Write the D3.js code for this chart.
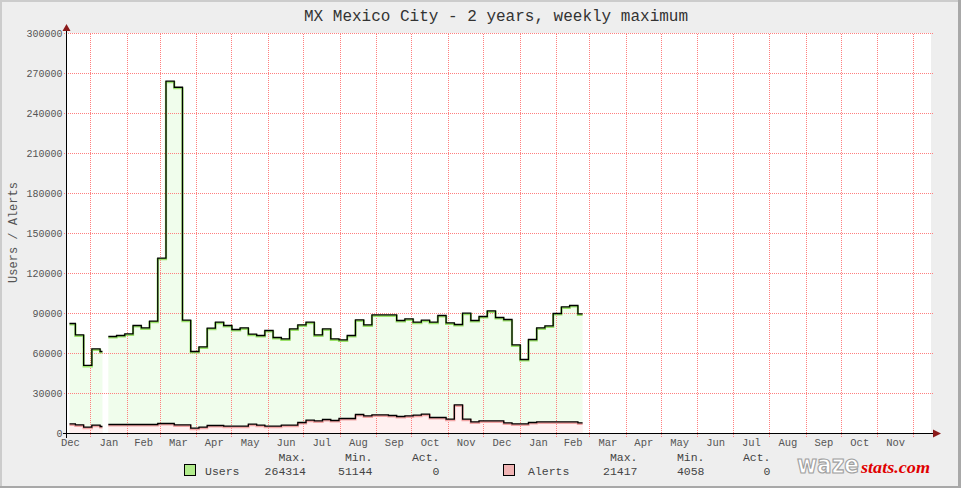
<!DOCTYPE html>
<html><head><meta charset="utf-8">
<script src="https://cdn.jsdelivr.net/npm/d3@7"></script>
<style>html,body{margin:0;padding:0;background:#eeeeee}svg{display:block}</style>
</head><body>
<svg id="chart" width="961" height="488"></svg>
<script>
// ---------------- DATA ----------------
const chartTitle = "MX Mexico City - 2 years, weekly maximum";
const yAxisTitle = "Users / Alerts";
const periodStarts = [
  "2012-12-14","2012-12-19","2012-12-26","2013-01-02","2013-01-09","2013-01-11",
  "2013-01-16","2013-01-23","2013-01-30","2013-02-06","2013-02-13","2013-02-20",
  "2013-02-27","2013-03-06","2013-03-13","2013-03-20","2013-03-27","2013-04-03",
  "2013-04-10","2013-04-17","2013-04-24","2013-05-01","2013-05-08","2013-05-15",
  "2013-05-22","2013-05-29","2013-06-05","2013-06-12","2013-06-19","2013-06-26",
  "2013-07-03","2013-07-10","2013-07-17","2013-07-24","2013-07-31","2013-08-07",
  "2013-08-14","2013-08-21","2013-08-28","2013-09-04","2013-09-11","2013-09-18",
  "2013-09-25","2013-10-02","2013-10-09","2013-10-16","2013-10-23","2013-10-30",
  "2013-11-06","2013-11-13","2013-11-20","2013-11-27","2013-12-04","2013-12-11",
  "2013-12-18","2013-12-25","2014-01-01","2014-01-08","2014-01-15","2014-01-22",
  "2014-01-29","2014-02-05","2014-02-12","2014-02-19"
];
const periodEnd = "2014-02-23";
const users = [
  82500, 74000, 51144, 63500, 61500, null,
  72750, 73500, 74750, 81000, 79250, 84250,
  131500, 264314, 259700, 85000, 61500, 65000,
  79000, 83500, 81000, 78000, 79250, 74500,
  73500, 77250, 72000, 71000, 78500, 81500,
  83500, 74000, 78500, 71000, 70250, 73500,
  85250, 81500, 89000, 89000, 89000, 84750,
  86000, 83500, 85000, 83500, 88500, 83000,
  81750, 90250, 84750, 87750, 92000, 87000,
  85500, 66500, 55500, 70500, 79250, 80750,
  90000, 95000, 96000, 89750
];
const alerts = [
  7250, 6500, 4750, 6250, 5250, null,
  6750, 6750, 6750, 6750, 6750, 6750,
  7500, 7500, 6500, 6500, 4058, 4750,
  6000, 6000, 5500, 5500, 5500, 7000,
  6250, 5500, 5500, 6250, 6250, 8250,
  10000, 9500, 10500, 9750, 11250, 11250,
  14250, 13250, 14000, 14000, 13500, 12750,
  13250, 13750, 14500, 12000, 12000, 10750,
  21417, 10750, 8750, 9500, 9500, 9500,
  8000, 7250, 7250, 8250, 8750, 8750,
  8750, 8750, 8750, 8000
];
const yTicks = [0, 30000, 60000, 90000, 120000, 150000, 180000, 210000, 240000, 270000, 300000];
const monthLabels = ["Dec","Jan","Feb","Mar","Apr","May","Jun","Jul","Aug","Sep","Oct","Nov",
                     "Dec","Jan","Feb","Mar","Apr","May","Jun","Jul","Aug","Sep","Oct","Nov"];
const legendHeaders = ["Max.", "Min.", "Act."];
const seriesNames = ["Users", "Alerts"];
const usersStats = ["264314", "51144", "0"];
const alertsStats = ["21417", "4058", "0"];

// ---------------- CHART ----------------
const svg = d3.select("#chart");
const W = 961, H = 488;
const parse = d3.utcParse("%Y-%m-%d");
const domStart = new Date(Date.UTC(2012, 11, 11, 21));
const domEnd = new Date(Date.UTC(2014, 11, 16, 1));
const x = d3.scaleUtc().domain([domStart, domEnd]).range([67, 931]);
const y = d3.scaleLinear().domain([0, 300000]).range([433.5, 33.5]);

// dotted grid patterns (crisp 1px on / 1px off)
const gridColor = "#ff7f7f";
const defs = svg.append("defs");
const ph = defs.append("pattern").attr("id", "hdots").attr("patternUnits", "userSpaceOnUse")
  .attr("x", 0).attr("y", 0).attr("width", 2).attr("height", 1);
ph.append("rect").attr("width", 1).attr("height", 1).attr("fill", gridColor);
const pv = defs.append("pattern").attr("id", "vdots").attr("patternUnits", "userSpaceOnUse")
  .attr("x", 0).attr("y", 0).attr("width", 1).attr("height", 2);
pv.append("rect").attr("width", 1).attr("height", 1).attr("fill", gridColor);

// frame
svg.append("rect").attr("width", W).attr("height", H).attr("fill", "#eeeeee");
svg.append("rect").attr("x", 0).attr("y", 0).attr("width", W).attr("height", 2).attr("fill", "#cccccc");
svg.append("rect").attr("x", 0).attr("y", 0).attr("width", 2).attr("height", H).attr("fill", "#cccccc");
svg.append("rect").attr("x", 0).attr("y", H - 2).attr("width", W).attr("height", 2).attr("fill", "#a8a8a8");
svg.append("rect").attr("x", W - 3).attr("y", 0).attr("width", 3).attr("height", H).attr("fill", "#a8a8a8");

// plot background
svg.append("rect").attr("x", 67).attr("y", 33).attr("width", 864).attr("height", 400).attr("fill", "#ffffff");

// data building
const starts = periodStarts.map(parse);
const endDate = parse(periodEnd);
function runs(values) {
  const out = [];
  let cur = null;
  values.forEach((v, i) => {
    const s = starts[i];
    const e = i + 1 < starts.length ? starts[i + 1] : endDate;
    if (v == null) { cur = null; return; }
    if (!cur) { cur = []; out.push(cur); }
    cur.push({t: s, v: v}, {t: e, v: v});
  });
  return out;
}
const userRuns = runs(users);
const alertRuns = runs(alerts);

const area = d3.area().x(d => x(d.t)).y0(y(0)).y1(d => y(d.v));
const line = d3.line().x(d => x(d.t)).y(d => y(d.v));

const gData = svg.append("g");
userRuns.forEach(r => gData.append("path").attr("d", area(r)).attr("fill", "#f0fdec"));
alertRuns.forEach(r => gData.append("path").attr("d", area(r)).attr("fill", "#fff0f0"));

// grid
const grid = svg.append("g");
yTicks.filter(v => v > 0).forEach(v => {
  grid.append("rect").attr("x", 63).attr("y", Math.floor(y(v))).attr("width", 870).attr("height", 1)
    .attr("fill", "url(#hdots)");
});
const monthStarts = d3.utcMonth.range(d3.utcMonth.ceil(domStart), domEnd);
monthStarts.forEach(m => {
  grid.append("rect").attr("x", Math.floor(x(m))).attr("y", 33).attr("width", 1).attr("height", 404)
    .attr("fill", "url(#vdots)");
});

// lines
userRuns.forEach(r => {
  svg.append("path").attr("d", line(r)).attr("fill", "none").attr("stroke", "#9be36a").attr("stroke-width", 2.2).attr("transform", "translate(0,1)");
});
alertRuns.forEach(r => {
  svg.append("path").attr("d", line(r)).attr("fill", "none").attr("stroke", "#f2a5a5").attr("stroke-width", 2.2).attr("transform", "translate(0,1)");
});
userRuns.forEach(r => {
  svg.append("path").attr("d", line(r)).attr("fill", "none").attr("stroke", "#000").attr("stroke-width", 1.3);
});
alertRuns.forEach(r => {
  svg.append("path").attr("d", line(r)).attr("fill", "none").attr("stroke", "#000").attr("stroke-width", 1.3);
});

// axes
svg.append("line").attr("x1", 66.5).attr("x2", 66.5).attr("y1", 29).attr("y2", 438).attr("stroke", "#000").attr("stroke-width", 1);
svg.append("line").attr("x1", 63).attr("x2", 935).attr("y1", 433.5).attr("y2", 433.5).attr("stroke", "#000").attr("stroke-width", 1);
svg.append("path").attr("d", "M66.5,24 L70.5,31 L62.5,31 Z").attr("fill", "#8b1a1a");
svg.append("path").attr("d", "M941,433.5 L933,429.5 L933,437.5 Z").attr("fill", "#8b1a1a");

const mono = "'Liberation Mono', 'DejaVu Sans Mono', monospace";
// y tick labels
yTicks.forEach(v => {
  svg.append("text").attr("x", 62.5).attr("y", y(v) + 3.5).attr("text-anchor", "end")
    .attr("font-family", mono).attr("font-size", 10).attr("fill", "#555").text(String(v));
});
// month labels
const labelMonths = d3.utcMonth.range(d3.utcMonth.floor(domStart), d3.utcMonth.floor(domEnd));
labelMonths.forEach((m, i) => {
  const next = d3.utcMonth.offset(m, 1);
  const mid = new Date((m.getTime() + next.getTime()) / 2);
  svg.append("text").attr("x", x(mid) - (i === 0 ? 2 : 0)).attr("y", 446).attr("text-anchor", "middle")
    .attr("font-family", mono).attr("font-size", 10.5).attr("fill", "#555").text(monthLabels[i]);
});

// title
svg.append("text").attr("x", 496).attr("y", 21).attr("text-anchor", "middle")
  .attr("font-family", mono).attr("font-size", 16).attr("fill", "#333").text(chartTitle);
// y axis title
svg.append("text").attr("transform", "translate(17,232.5) rotate(-90)").attr("text-anchor", "middle")
  .attr("font-family", mono).attr("font-size", 12).attr("fill", "#555").text(yAxisTitle);

// legend
const legend = [
  {name: seriesNames[0], stats: usersStats, color: "#b2ec8c", box: 184.5, label: 205, cols: [306, 372.5, 439.5]},
  {name: seriesNames[1], stats: alertsStats, color: "#f0b4b4", box: 503.5, label: 528, cols: [637.5, 704.5, 770.5]}
];
legend.forEach(l => {
  svg.append("rect").attr("x", l.box).attr("y", 464.5).attr("width", 11).attr("height", 11)
    .attr("fill", l.color).attr("stroke", "#000").attr("stroke-width", 1);
  svg.append("text").attr("x", l.label).attr("y", 474.5).attr("font-family", mono).attr("font-size", 11.5)
    .attr("fill", "#444").text(l.name);
  l.cols.forEach((cx, j) => {
    svg.append("text").attr("x", cx).attr("y", 461).attr("text-anchor", "end").attr("font-family", mono)
      .attr("font-size", 11.5).attr("fill", "#444").text(legendHeaders[j]);
    svg.append("text").attr("x", cx).attr("y", 474.5).attr("text-anchor", "end").attr("font-family", mono)
      .attr("font-size", 11.5).attr("fill", "#444").text(l.stats[j]);
  });
});

// logo
svg.append("text").attr("x", 797).attr("y", 473).attr("font-family", "'DejaVu Sans', sans-serif")
  .attr("font-weight", "bold").attr("font-size", 24).attr("textLength", 62).attr("lengthAdjust", "spacingAndGlyphs")
  .attr("fill", "#ffffff").attr("stroke", "#a0a0a0").attr("stroke-width", 1.2).text("waze");
svg.append("text").attr("x", 861).attr("y", 473).attr("font-family", "'Liberation Serif', serif")
  .attr("font-weight", "bold").attr("font-style", "italic").attr("font-size", 17)
  .attr("textLength", 69).attr("lengthAdjust", "spacingAndGlyphs").attr("fill", "#e00000").text("stats.com");
</script>
</body></html>
